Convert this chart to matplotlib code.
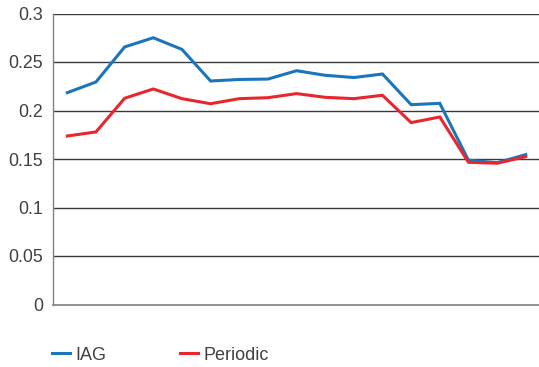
import matplotlib
matplotlib.use("Agg")
import matplotlib.pyplot as plt

categories = list(range(1, 18))
iag = [0.2184, 0.2294, 0.2655, 0.2750, 0.2630, 0.2304, 0.2320, 0.2324, 0.2410,
       0.2363, 0.2340, 0.2376, 0.2060, 0.2074, 0.1487, 0.1462, 0.1545]
periodic = [0.1737, 0.1779, 0.2126, 0.2222, 0.2122, 0.2070, 0.2122, 0.2132, 0.2174,
            0.2136, 0.2122, 0.2157, 0.1875, 0.1933, 0.1466, 0.1456, 0.1524]
yticks = [0, 0.05, 0.1, 0.15, 0.2, 0.25, 0.3]
ytick_labels = ["0", "0.05", "0.1", "0.15", "0.2", "0.25", "0.3"]

plt.rcParams['font.family'] = ['Liberation Sans', 'DejaVu Sans']

fig = plt.figure(figsize=(5.39, 3.67), dpi=100)
ax = fig.add_axes([53/539, 1 - 304.5/367, 1 - 53/539 + 0.002, (304.5 - 13.5)/367])

x = list(range(len(categories)))
ax.plot(x, iag, color="#1a75bc", lw=2.2, label="IAG", solid_joinstyle="miter", zorder=3)
ax.plot(x, periodic, color="#e8262d", lw=2.2, label="Periodic", solid_joinstyle="miter", zorder=3)

ax.set_xlim(-0.5, len(categories) - 0.5)
ax.set_ylim(0, 0.3)
ax.set_yticks(yticks)
ax.set_yticklabels(ytick_labels)
ax.set_xticks([])
ax.tick_params(axis='y', length=0, pad=7, labelsize=12.8, labelcolor="#404040")
for t in yticks[1:]:
    ax.axhline(t, color="#3a3a3a", lw=1.0, zorder=1)
for s in ["top", "right"]:
    ax.spines[s].set_visible(False)
ax.spines["left"].set_color("#808080")
ax.spines["bottom"].set_color("#808080")
ax.spines["left"].set_linewidth(1.0)
ax.spines["bottom"].set_linewidth(1.2)

fig.legend(loc="center left", bbox_to_anchor=(36/539, 1 - 355/367), ncol=2, frameon=False,
           fontsize=13, handlelength=1.0, handletextpad=0.3, columnspacing=4.05,
           labelcolor="#404040")

fig.savefig("out.png", dpi=100)
